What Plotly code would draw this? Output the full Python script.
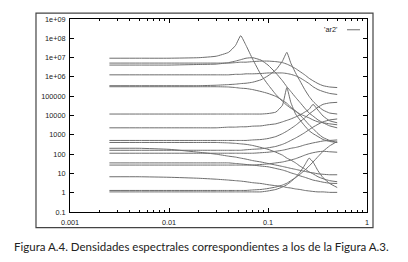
import plotly.graph_objects as go

# frequency grid (cycles per sample)
freq = [0.0025, 0.005, 0.01, 0.02, 0.03, 0.04, 0.047, 0.053, 0.06, 0.07, 0.085, 0.1,
        0.12, 0.14, 0.155, 0.17, 0.19, 0.21, 0.235, 0.26, 0.285, 0.32, 0.36, 0.42, 0.5]

# spectral densities (one list per curve)
psd_a = [9.3e6, 9.3e6, 9.3e6, 9.9e6, 1.18e7, 1.88e7, 4.26e7, 1.37e8, 4.26e7, 8.3e6, 1.28e6, 4.0e5,
         1.23e5, 5.4e4, 3.4e4, 2.4e4, 1.7e4, 1.19e4, 9.4e3, 7.5e3, 5.9e3, 4.7e3, 4.2e3, 3.7e3, 3.3e3]
psd_b = [5.2e6, 5.2e6, 5.2e6, 5.2e6, 5.2e6, 5.2e6, 5.5e6, 5.8e6, 5.8e6, 6.2e6, 6.6e6, 6.6e6,
         6.2e6, 5.5e6, 4.6e6, 3.7e6, 2.7e6, 1.9e6, 1.28e6, 8.5e5, 6.3e5, 4.5e5, 3.5e5, 3.0e5, 2.8e5]
psd_c = [4.1e6, 4.1e6, 4.1e6, 4.4e6, 4.6e6, 5.5e6, 6.6e6, 7.8e6, 9.3e6, 9.9e6, 7.4e6, 4.1e6,
         1.6e6, 6.3e5, 3.1e5, 1.75e5, 8.7e4, 4.8e4, 2.4e4, 1.34e4, 9.4e3, 5.9e3, 4.2e3, 2.9e3, 2.3e3]
psd_d = [1.28e6, 1.28e6, 1.28e6, 1.28e6, 1.28e6, 1.28e6, 1.36e6, 1.36e6, 1.44e6, 1.44e6, 1.5e6, 1.6e6,
         1.6e6, 1.6e6, 1.5e6, 1.36e6, 1.14e6, 9.0e5, 6.3e5, 4.5e5, 3.1e5, 2.2e5, 1.75e5, 1.39e5, 1.23e5]
psd_e = [3.5e5, 3.5e5, 3.5e5, 3.5e5, 3.7e5, 4.0e5, 4.2e5, 4.5e5, 4.7e5, 5.3e5, 7.1e5, 1.14e6,
         2.3e6, 6.6e6, 1.88e7, 5.2e6, 1.6e6, 6.3e5, 2.2e5, 9.8e4, 5.4e4, 3.0e4, 1.9e4, 1.34e4, 1.19e4]
psd_f = [3.1e5, 3.1e5, 3.1e5, 3.1e5, 3.1e5, 3.0e5, 2.8e5, 2.6e5, 2.5e5, 2.2e5, 1.75e5, 1.39e5,
         9.8e4, 6.1e4, 4.3e4, 2.7e4, 1.7e4, 1.06e4, 5.9e3, 3.3e3, 2.1e3, 1.15e3, 720, 510, 400]
psd_g = [1.19e4, 1.19e4, 1.19e4, 1.19e4, 1.19e4, 1.19e4, 1.19e4, 1.19e4, 1.19e4, 1.19e4, 1.19e4, 1.26e4,
         1.5e4, 3.4e4, 2.8e5, 4.8e4, 1.19e4, 5.9e3, 2.9e3, 1.63e3, 1.15e3, 810, 570, 450, 400]
psd_h = [2.3e3, 2.3e3, 2.3e3, 2.3e3, 2.3e3, 2.5e3, 2.5e3, 2.6e3, 2.6e3, 2.8e3, 2.9e3, 3.3e3,
         3.7e3, 4.7e3, 5.6e3, 6.6e3, 8.4e3, 1.06e4, 1.5e4, 2.1e4, 3.8e4, 1.9e4, 9.4e3, 5.3e3, 4.2e3]
psd_i = [510, 510, 510, 510, 510, 510, 510, 510, 510, 540, 570, 640,
         810, 1.15e3, 1.54e3, 2.1e3, 3.1e3, 4.7e3, 7.5e3, 1.19e4, 1.7e4, 2.7e4, 3.8e4, 4.5e4, 4.8e4]
psd_j = [400, 400, 400, 400, 400, 380, 360, 340, 320, 280, 220, 177,
         125, 88, 62, 49, 35, 24, 17, 12, 9.5, 6.7, 5.3, 4.2, 3.7]
psd_k = [200, 200, 177, 125, 99, 78, 70, 62, 55, 46, 39, 32.6,
         27, 22.9, 20.4, 18.2, 16.2, 14.4, 12.8, 11.4, 10.7, 9.5, 9.0, 8.5, 8.5]
psd_l = [158, 158, 158, 158, 158, 158, 158, 158, 167, 177, 188, 211,
         250, 320, 400, 510, 680, 910, 1.29e3, 1.84e3, 2.5e3, 3.5e3, 4.7e3, 5.9e3, 6.6e3]
psd_m = [111, 111, 111, 111, 111, 111, 111, 111, 111, 111, 118, 125,
         140, 158, 177, 200, 220, 250, 300, 340, 380, 426, 479, 510, 540]
psd_n = [35, 35, 35, 35, 35, 35, 32.6, 31, 29, 27, 24, 22,
         18, 15, 12.8, 10.7, 9.0, 7.5, 6.3, 5.3, 4.5, 4.0, 3.5, 3.1, 3.0]
psd_o = [27, 27, 27, 27, 27, 27, 27, 27, 27, 27, 29, 31,
         35, 39, 44, 49, 58, 70, 88, 105, 118, 132, 140, 132, 125]
psd_p = [6.7, 6.7, 6.3, 5.6, 5.0, 4.5, 4.2, 4.0, 3.7, 3.3, 3.0, 2.6,
         2.3, 2.1, 1.86, 1.75, 1.56, 1.47, 1.31, 1.23, 1.16, 1.10, 1.10, 1.04, 1.04]
psd_q = [1.31, 1.31, 1.31, 1.31, 1.31, 1.31, 1.31, 1.31, 1.31, 1.39, 1.47, 1.65,
         1.97, 2.49, 3.1, 4.2, 6.0, 9.0, 14.4, 24, 39, 74, 140, 267, 450]
psd_r = [1.10, 1.10, 1.10, 1.10, 1.10, 1.10, 1.10, 1.10, 1.10, 1.10, 1.10, 1.23,
         1.47, 1.97, 2.6, 3.7, 6.3, 11.4, 27, 62, 39, 13.6, 6.0, 3.0, 1.86]

series = [psd_a, psd_b, psd_c, psd_d, psd_e, psd_f, psd_g, psd_h, psd_i,
          psd_j, psd_k, psd_l, psd_m, psd_n, psd_o, psd_p, psd_q, psd_r]

x_tickvals = [0.001, 0.01, 0.1, 1]
x_ticktext = ["0.001", "0.01", "0.1", "1"]
x_minor = [m * d for d in (0.001, 0.01, 0.1) for m in range(2, 10)]
y_tickvals = [0.1, 1, 10, 100, 1000, 1e4, 1e5, 1e6, 1e7, 1e8, 1e9]
y_ticktext = ["0.1", "1", "10", "100", "1000", "10000", "100000",
              "1e+06", "1e+07", "1e+08", "1e+09"]
legend_label = "'ar2'"
caption = "Figura A.4. Densidades espectrales correspondientes a los de la Figura A.3."

LINE = "#6e6e6e"
fig = go.Figure()
for s in series:
    fig.add_trace(go.Scatter(x=freq, y=s, mode="lines", showlegend=False,
                             line=dict(color=LINE, width=1, shape="spline", smoothing=0.4),
                             hoverinfo="skip"))

tickfont = dict(family="Liberation Sans, Arial, sans-serif", size=7.3, color="#222")
fig.update_xaxes(type="log", range=[-3, 0], tickvals=x_tickvals, ticktext=x_ticktext,
                 ticks="inside", ticklen=4, tickcolor="#000", tickwidth=1,
                 showline=True, linecolor="#000", linewidth=1, mirror="ticks",
                 showgrid=False, zeroline=False, tickfont=tickfont, ticklabelstandoff=3,
                 minor=dict(tickvals=x_minor, ticks="inside", ticklen=2,
                            tickcolor="#000", showgrid=False))
fig.update_yaxes(type="log", range=[-1, 9], tickvals=y_tickvals, ticktext=y_ticktext,
                 ticks="inside", ticklen=4, tickcolor="#000", tickwidth=1,
                 showline=True, linecolor="#000", linewidth=1, mirror="ticks",
                 showgrid=False, zeroline=False, tickfont=tickfont, ticklabelstandoff=2)

# outer figure frame
fig.add_shape(type="rect", xref="paper", yref="paper",
              x0=-0.1145, x1=1.0202, y0=-0.0812, y1=1.0305,
              line=dict(color="#444", width=1.2), fillcolor="rgba(0,0,0,0)")
# legend key
fig.add_shape(type="line", xref="paper", yref="paper",
              x0=0.9327, x1=0.9764, y0=0.9442, y1=0.9442,
              line=dict(color=LINE, width=1))
fig.add_annotation(text=legend_label, xref="paper", yref="paper", x=0.9091, y=0.9442,
                   xanchor="right", yanchor="middle", showarrow=False,
                   font=dict(family="Liberation Sans, Arial, sans-serif", size=7.3, color="#222"))
fig.add_annotation(text=caption, xref="paper", yref="paper", x=0.4444, y=-0.178,
                   xanchor="center", yanchor="middle", showarrow=False,
                   font=dict(family="Lato, sans-serif", size=11.5, color="#222"))

# the page body adds an 8px offset, so the figure is 8px smaller on each side
fig.update_layout(width=400, height=254, margin=dict(l=62, r=41, t=7, b=50),
                  paper_bgcolor="white", plot_bgcolor="white")
fig.write_html("out.html")
